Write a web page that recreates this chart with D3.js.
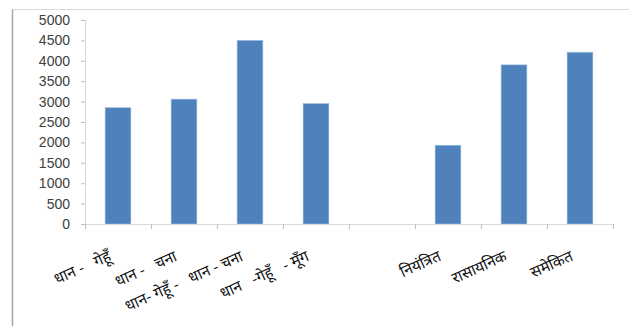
<!DOCTYPE html>
<html>
<head>
<meta charset="utf-8">
<script src="https://cdn.jsdelivr.net/npm/d3@7"></script>
<style>
  body { margin: 0; background: #fff; }
  svg { display: block; }
</style>
</head>
<body>
<div id="chart"></div>
<script>
// categories (5th slot is an empty gap in the original)
var categories = ['धान -   गेहूँ', 'धान -   चना', 'धान- गेहूँ -   धान - चना', 'धान   -गेहूँ   - मूँग', '', 'नियंत्रित', 'रासायनिक', 'समेकित'];
var values = [2850, 3060, 4500, 2950, null, 1930, 3900, 4210];
var yTicks = [0, 500, 1000, 1500, 2000, 2500, 3000, 3500, 4000, 4500, 5000];

var width = 629, height = 326;
var margin = { top: 20, right: 16, bottom: 102, left: 85 };

var svg = d3.select('#chart').append('svg')
  .attr('width', width)
  .attr('height', height);

// outer frame (only top and left edges show)
svg.append('line')
  .attr('x1', 12.5).attr('x2', width)
  .attr('y1', 9.5).attr('y2', 9.5)
  .attr('stroke', '#d9d9d9');
svg.append('line')
  .attr('x1', 12.5).attr('x2', 12.5)
  .attr('y1', 9.5).attr('y2', height)
  .attr('stroke', '#a6a6a6')
  .attr('stroke-width', 1.5);

var x = d3.scaleBand()
  .domain(d3.range(categories.length))
  .range([margin.left, width - margin.right])
  .paddingInner(0.61)
  .paddingOuter(0.305);

var xOuter = d3.scaleBand()
  .domain(d3.range(categories.length))
  .range([margin.left, width - margin.right]);

var y = d3.scaleLinear()
  .domain([0, 5000])
  .range([height - margin.bottom, margin.top]);

/* Y axis */
var yAxis = svg.append('g')
  .attr('transform', 'translate(' + margin.left + ',0)')
  .call(d3.axisLeft(y).tickValues(yTicks).tickSize(4).tickPadding(11).tickFormat(d3.format('d')));
yAxis.select('.domain').attr('stroke', '#d9d9d9');
yAxis.selectAll('.tick line').attr('stroke', '#bfbfbf');
yAxis.selectAll('.tick text')
  .attr('fill', '#404040')
  .style('font-family', 'Liberation Sans, Arial, sans-serif')
  .style('font-size', '14px');

/* bars */
svg.append('g').selectAll('rect')
  .data(values.map(function(v, i) { return { i: i, v: v }; }).filter(function(d) { return d.v != null; }))
  .join('rect')
  .attr('x', function(d) { return x(d.i); })
  .attr('y', function(d) { return y(d.v); })
  .attr('width', x.bandwidth())
  .attr('height', function(d) { return y(0) - y(d.v); })
  .attr('fill', '#4f81bd')
  .attr('stroke', '#9dbbe0')
  .attr('stroke-width', 0.6);

/* X axis: ticks at category boundaries */
var xg = svg.append('g');
xg.append('line')
  .attr('x1', margin.left).attr('x2', width - margin.right)
  .attr('y1', y(0) + 0.5).attr('y2', y(0) + 0.5)
  .attr('stroke', '#d9d9d9');
xg.selectAll('line.tk')
  .data(d3.range(categories.length + 1))
  .join('line')
  .attr('class', 'tk')
  .attr('x1', function(d) { return Math.round(margin.left + d * xOuter.step()) + 0.5; })
  .attr('x2', function(d) { return Math.round(margin.left + d * xOuter.step()) + 0.5; })
  .attr('y1', y(0)).attr('y2', y(0) + 5)
  .attr('stroke', '#bfbfbf');

// rotated labels, right end anchored under each category centre
xg.selectAll('text')
  .data(categories)
  .join('text')
  .text(function(d) { return d; })
  .attr('text-anchor', 'end')
  .attr('transform', function(d, i) {
    return 'translate(' + (xOuter(i) + xOuter.bandwidth() / 2 - 6) + ',' + (y(0) + 36) + ') rotate(-24)';
  })
  .attr('fill', '#111')
  .style('font-family', 'Noto Sans, Noto Sans Devanagari, sans-serif')
  .style('font-size', '15.5px')
  .style('white-space', 'pre');
</script>
</body>
</html>
